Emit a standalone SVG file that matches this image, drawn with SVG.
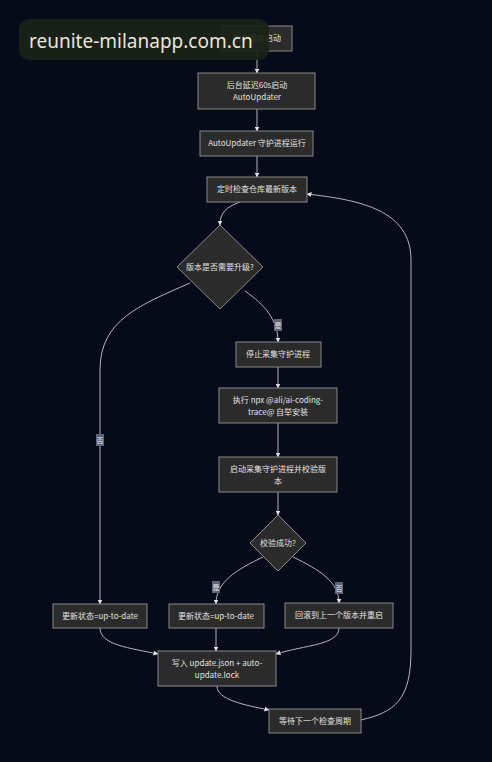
<svg xmlns="http://www.w3.org/2000/svg" width="492" height="762" viewBox="0 0 492 762">
<defs>
<style>
.n rect,.n polygon{fill:#2b2b2b;stroke:#8a8a8a;stroke-width:1}
.t{font-family:"Noto Sans CJK SC","Noto Sans",sans-serif;font-size:8px;fill:#e2e2e2;text-anchor:middle}
.e path{fill:none;stroke:#b4b4b8;stroke-width:1}
.lb rect{fill:#5d6478}
.lb text{font-family:"Noto Sans CJK SC",sans-serif;font-size:7px;fill:#e8e8e8;text-anchor:middle}
</style>
<marker id="a" viewBox="0 0 10 10" refX="9" refY="5" markerWidth="5" markerHeight="5" orient="auto">
<path d="M0,0 L10,5 L0,10 z" fill="#e0e0e0"/>
</marker>
</defs>
<rect width="492" height="762" fill="#070b19"/>
<g class="e" id="edges">
<path d="M257,51 L257,73" marker-end="url(#a)"/>
<path d="M257,109 L257,131" marker-end="url(#a)"/>
<path d="M257,156 L257,177" marker-end="url(#a)"/>
<path d="M240,202 C226,207 220,213 220,225" marker-end="url(#a)"/>
<path d="M245,291 C265,305 278,320 278,342" marker-end="url(#a)"/>
<path d="M190,283 C140,305 100,320 100,370 L100,604" marker-end="url(#a)"/>
<path d="M278,367 L278,388" marker-end="url(#a)"/>
<path d="M278,423 L278,457" marker-end="url(#a)"/>
<path d="M278,492 L278,515" marker-end="url(#a)"/>
<path d="M263,557 C236,570 216,582 216,604" marker-end="url(#a)"/>
<path d="M293,557 C320,570 339,582 339,603" marker-end="url(#a)"/>
<path d="M100,628 C100,645 130,648 158,654" marker-end="url(#a)"/>
<path d="M216,628 L216,651" marker-end="url(#a)"/>
<path d="M339,628 C339,645 305,645 276,654" marker-end="url(#a)"/>
<path d="M217,686 C217,700 245,705 269,710" marker-end="url(#a)"/>
<path d="M361,720 C395,712 411,700 411,650 L411,260 C411,210 360,200 307,194" marker-end="url(#a)"/>
</g>
<g id="labels">
<g class="lb"><rect x="274" y="319" width="8" height="12"/><text x="278" y="328">是</text></g>
<g class="lb"><rect x="96" y="434" width="8" height="12"/><text x="100" y="443">否</text></g>
<g class="lb"><rect x="212" y="581" width="8" height="12"/><text x="216" y="590">是</text></g>
<g class="lb"><rect x="335" y="582" width="8" height="12"/><text x="339" y="591">否</text></g>
</g>
<g class="n" id="n1"><rect x="222" y="26" width="70" height="25"/><text class="t" x="257" y="41">插件服务启动</text></g>
<g class="n" id="n2"><rect x="198" y="73" width="117" height="36"/><text class="t" x="257" y="88">后台延迟60s启动</text><text class="t" x="257" y="100">AutoUpdater</text></g>
<g class="n" id="n3"><rect x="200" y="131" width="113" height="25"/><text class="t" x="257" y="146">AutoUpdater 守护进程运行</text></g>
<g class="n" id="n4"><rect x="207" y="177" width="100" height="25"/><text class="t" x="257" y="192">定时检查仓库最新版本</text></g>
<g class="n" id="d1"><polygon points="220,225 263,267 220,309 177,267"/><text class="t" x="220" y="270">版本是否需要升级?</text></g>
<g class="n" id="n5"><rect x="236" y="342" width="85" height="25"/><text class="t" x="278" y="357">停止采集守护进程</text></g>
<g class="n" id="n6"><rect x="219" y="388" width="118" height="35"/><text class="t" x="278" y="403">执行 npx @ali/ai-coding-</text><text class="t" x="278" y="415">trace@ 自举安装</text></g>
<g class="n" id="n7"><rect x="219" y="457" width="118" height="35"/><text class="t" x="278" y="472">启动采集守护进程并校验版</text><text class="t" x="278" y="484">本</text></g>
<g class="n" id="d2"><polygon points="278,515 306,543 278,571 250,543"/><text class="t" x="278" y="546">校验成功?</text></g>
<g class="n" id="n8"><rect x="53" y="604" width="94" height="24"/><text class="t" x="100" y="619">更新状态=up-to-date</text></g>
<g class="n" id="n9"><rect x="169" y="604" width="95" height="24"/><text class="t" x="216" y="619">更新状态=up-to-date</text></g>
<g class="n" id="n10"><rect x="285" y="603" width="108" height="25"/><text class="t" x="339" y="618">回滚到上一个版本并重启</text></g>
<g class="n" id="n11"><rect x="158" y="651" width="118" height="35"/><text class="t" x="217" y="666">写入 update.json + auto-</text><text class="t" x="217" y="678">update.lock</text></g>
<g class="n" id="n12"><rect x="269" y="709" width="92" height="24"/><text class="t" x="315" y="724">等待下一个检查周期</text></g>
<g id="watermark">
<rect x="19" y="19" width="250" height="41" rx="10" fill="#1b2318" fill-opacity="0.92"/>
<text x="29" y="48" font-family="Noto Sans,sans-serif" font-size="19" fill="#ece5d6">reunite-milanapp.com.cn</text>
</g>
</svg>
